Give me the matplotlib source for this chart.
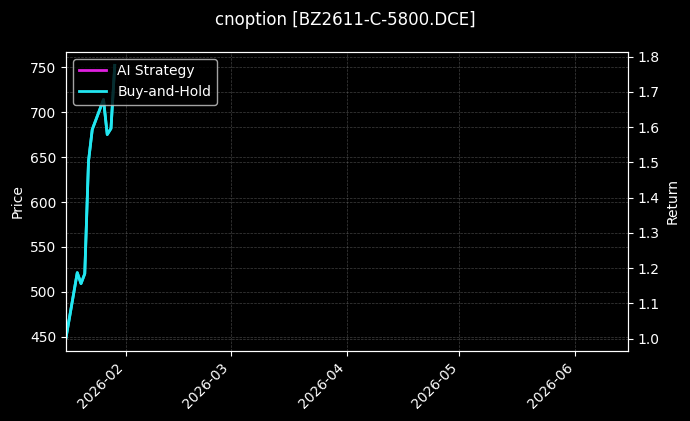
import matplotlib
matplotlib.use("Agg")
import matplotlib.pyplot as plt
import matplotlib.dates as mdates
import pandas as pd
import numpy as np

plt.style.use("dark_background")

dates = ["2026-01-16", "2026-01-19", "2026-01-20", "2026-01-21", "2026-01-22",
         "2026-01-23", "2026-01-26", "2026-01-27", "2026-01-28", "2026-01-29"]
price = [449.2, 521.4, 509.2, 520.3, 645.6, 680.8, 714.1, 675.2, 681.9, 752.2]
bh_return = [1.003, 1.187, 1.156, 1.184, 1.503, 1.593, 1.678, 1.579, 1.596, 1.775]
ai_return = []
ai_dates = []

title = "cnoption [BZ2611-C-5800.DCE]"

x = pd.to_datetime(dates)

fig, ax1 = plt.subplots(figsize=(6.9, 4.21), dpi=100)
fig.patch.set_facecolor("black")
ax1.set_facecolor("black")
fig.subplots_adjust(left=0.0957, right=0.910, top=0.877, bottom=0.166)

ax1.plot(x, price, color="#22e6f0", linewidth=2)
ax1.set_ylabel("Price", color="white")
ax1.grid(True, linestyle="--", linewidth=0.5, color="gray", alpha=0.5)

ax2 = ax1.twinx()
ax2.plot(pd.to_datetime(ai_dates), ai_return, color="#e020e0", linewidth=2, label="AI Strategy")
ax2.plot(x, bh_return, color="#22e6f0", linewidth=2, label="Buy-and-Hold")
ax2.set_ylabel("Return", color="white")
ax2.grid(True, linestyle="--", linewidth=0.5, color="gray", alpha=0.5)

ax1.set_xlim(pd.Timestamp("2026-01-16"), pd.Timestamp("2026-06-15"))
ax1.xaxis.set_major_locator(mdates.MonthLocator())
ax1.xaxis.set_major_formatter(mdates.DateFormatter("%Y-%m"))
for lbl in ax1.get_xticklabels():
    lbl.set_rotation(45)
    lbl.set_ha("right")

leg = ax2.legend(loc="upper left", facecolor="black", edgecolor="#cccccc", framealpha=0.8)

fig.suptitle(title, color="white", fontsize=12, y=0.975)

fig.savefig("out.png", dpi=100, facecolor="black")
